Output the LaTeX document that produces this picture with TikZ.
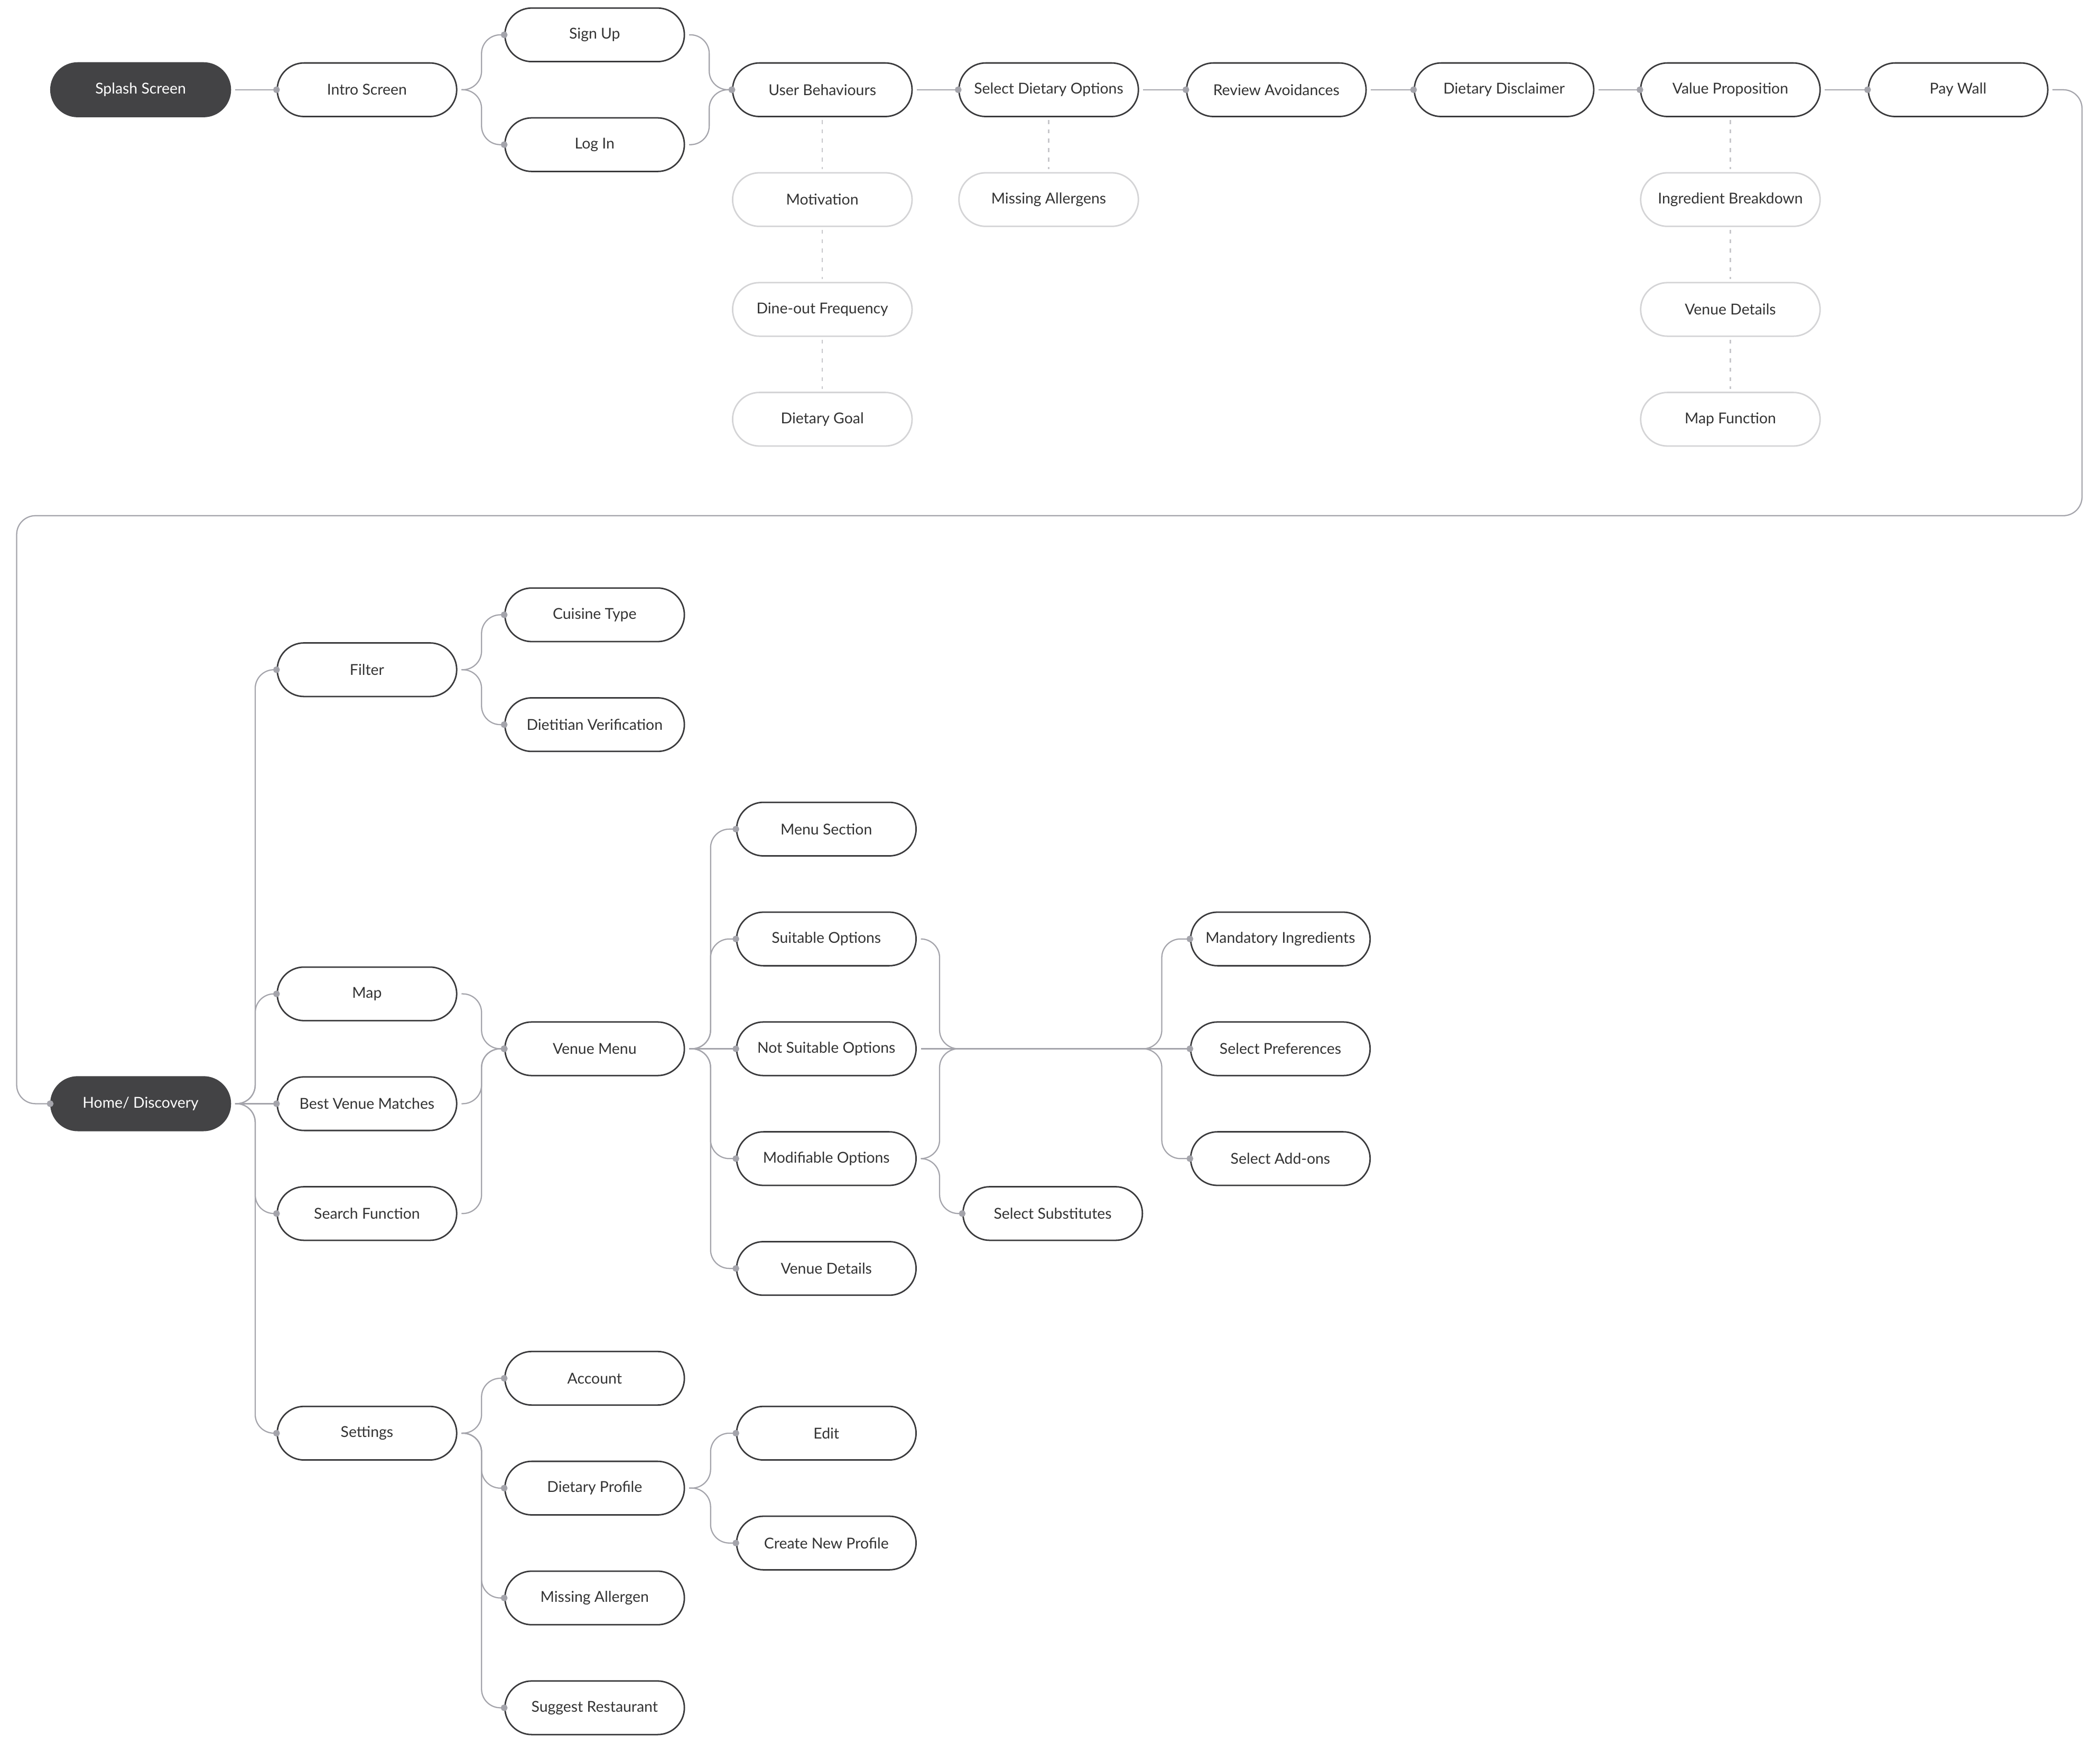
\documentclass[tikz,border=0pt]{standalone}
\usepackage{fontspec}
\setmainfont{Lato}
\usepackage{tikz}
\usetikzlibrary{positioning}
\usetikzlibrary{calc}
\usetikzlibrary{arrows.meta}
\usepackage{xcolor}
\definecolor{ink}{HTML}{333333}
\definecolor{dark}{HTML}{434345}
\definecolor{rim}{HTML}{3A3A3C}
\definecolor{faint}{HTML}{D4D4D6}
\definecolor{mist}{HTML}{C6C6CA}
\definecolor{wire}{HTML}{A4A4AB}
\tikzset{
	screen/.style ={rectangle, rounded corners=20pt, draw=rim, line width=1.1pt, fill=white, text=ink, minimum width=134pt, minimum height=40pt, inner sep=0pt, font=\fontsize{11.2}{13}\selectfont},
	start/.style = {screen, fill=dark, draw=dark, text=white},
	detail/.style = {screen, draw=faint},
	link/.style = {color=wire, draw, line width=0.9pt, rounded corners=14pt, -{Circle[length=5pt, color=wire]}, shorten >=-2.5pt},
	softlink/.style = {draw=mist, line width=1pt, dash pattern=on 3pt off 4pt, shorten >=2pt, shorten <=2pt},
	straight/.style = {to path={([xshift=3pt]\tikztostart.east) -- (\tikztotarget.west) \tikztonodes}},
	fork/.style = {to path={([xshift=3pt]\tikztostart.east) -- ++(#1,0) |- (\tikztotarget.west) \tikztonodes}},
	fork/.default = 15,
	drop/.style = {to path={(\tikztostart.south) -- (\tikztotarget.north) \tikztonodes}}
}

\begin{document}
\begin{tikzpicture}[x=1pt, y=-1pt]
	\useasboundingbox (0,0) rectangle (1568,1302);
	% Onboarding
	\node[start] (1) at (105, 67) {Splash Screen};
	\node[screen] (2) at (274, 67) {Intro Screen};
	\node[screen] (3) at (444, 26) {Sign Up};
	\node[screen] (4) at (444, 108) {Log In};
	\node[screen] (5) at (614, 67) {User Behaviours};
	\node[screen] (6) at (783, 67) {Select Dietary Options};
	\node[screen] (7) at (953, 67) {Review Avoidances};
	\node[screen] (8) at (1123, 67) {Dietary Disclaimer};
	\node[screen] (9) at (1292, 67) {Value Proposition};
	\node[screen] (10) at (1462, 67) {Pay Wall};
	\node[detail] (11) at (614, 149) {Motivation};
	\node[detail] (12) at (614, 231) {Dine-out Frequency};
	\node[detail] (13) at (614, 313) {Dietary Goal};
	\node[detail] (14) at (783, 149) {Missing Allergens};
	\node[detail] (15) at (1292, 149) {Ingredient Breakdown};
	\node[detail] (16) at (1292, 231) {Venue Details};
	\node[detail] (17) at (1292, 313) {Map Function};
	
	\path[link] (1) edge[straight] (2);
	\path[link] (2) edge[fork] (3);
	\path[link] (2) edge[fork] (4);
	\path[link] (3) edge[fork] (5);
	\path[link] (4) edge[fork] (5);
	\path[link] (5) edge[straight] (6);
	\path[link] (6) edge[straight] (7);
	\path[link] (7) edge[straight] (8);
	\path[link] (8) edge[straight] (9);
	\path[link] (9) edge[straight] (10);
	\path[softlink] (5) edge[drop] (11);
	\path[softlink] (11) edge[drop] (12);
	\path[softlink] (12) edge[drop] (13);
	\path[softlink] (6) edge[drop] (14);
	\path[softlink] (9) edge[drop] (15);
	\path[softlink] (15) edge[drop] (16);
	\path[softlink] (16) edge[drop] (17);
	
	% Discovery
	\node[start] (20) at (105, 824) {Home/ Discovery};
	\node[screen] (21) at (274, 500) {Filter};
	\node[screen] (22) at (274, 742) {Map};
	\node[screen] (23) at (274, 824) {Best Venue Matches};
	\node[screen] (24) at (274, 906) {Search Function};
	\node[screen] (25) at (274, 1070) {Settings};
	\node[screen] (26) at (444, 459) {Cuisine Type};
	\node[screen] (27) at (444, 541) {Dietitian Verification};
	\node[screen] (28) at (444, 783) {Venue Menu};
	\node[screen] (29) at (617, 619) {Menu Section};
	\node[screen] (30) at (617, 701) {Suitable Options};
	\node[screen] (31) at (617, 783) {Not Suitable Options};
	\node[screen] (32) at (617, 865) {Modifiable Options};
	\node[screen] (33) at (617, 947) {Venue Details};
	\node[screen] (34) at (786, 906) {Select Substitutes};
	\node[screen] (35) at (956, 701) {Mandatory Ingredients};
	\node[screen] (36) at (956, 783) {Select Preferences};
	\node[screen] (37) at (956, 865) {Select Add-ons};
	\node[screen] (38) at (444, 1029) {Account};
	\node[screen] (39) at (444, 1111) {Dietary Profile};
	\node[screen] (40) at (444, 1193) {Missing Allergen};
	\node[screen] (41) at (444, 1275) {Suggest Restaurant};
	\node[screen] (42) at (617, 1070) {Edit};
	\node[screen] (43) at (617, 1152) {Create New Profile};
	
	\draw[link] ([xshift=3pt]10.east) -- ++(22,0) -- ++(0,318) -| ([xshift=-25pt]20.west) -- (20.west);
	\path[link] (20) edge[fork] (21);
	\path[link] (20) edge[fork] (22);
	\path[link] (20) edge[straight] (23);
	\path[link] (20) edge[fork] (24);
	\path[link] (20) edge[fork] (25);
	\path[link] (21) edge[fork] (26);
	\path[link] (21) edge[fork] (27);
	\path[link] (22) edge[fork] (28);
	\path[link] (23) edge[fork] (28);
	\path[link] (24) edge[fork] (28);
	\path[link] (28) edge[fork=16] (29);
	\path[link] (28) edge[fork=16] (30);
	\path[link] (28) edge[straight] (31);
	\path[link] (28) edge[fork=16] (32);
	\path[link] (28) edge[fork=16] (33);
	\path[link] (31) edge[straight] (36);
	\path[link] (32) edge[fork=14] (34);
	\draw[link] ([xshift=3pt]30.east) -- ++(14,0) |- ([xshift=-21pt]36.west) |- (35.west);
	\draw[link] ([xshift=3pt]32.east) -- ++(14,0) |- ([xshift=-21pt]36.west) |- (37.west);
	\path[link] (25) edge[fork] (38);
	\path[link] (25) edge[fork] (39);
	\path[link] (25) edge[fork] (40);
	\path[link] (25) edge[fork] (41);
	\path[link] (39) edge[fork=16] (42);
	\path[link] (39) edge[fork=16] (43);
\end{tikzpicture}
\end{document}
